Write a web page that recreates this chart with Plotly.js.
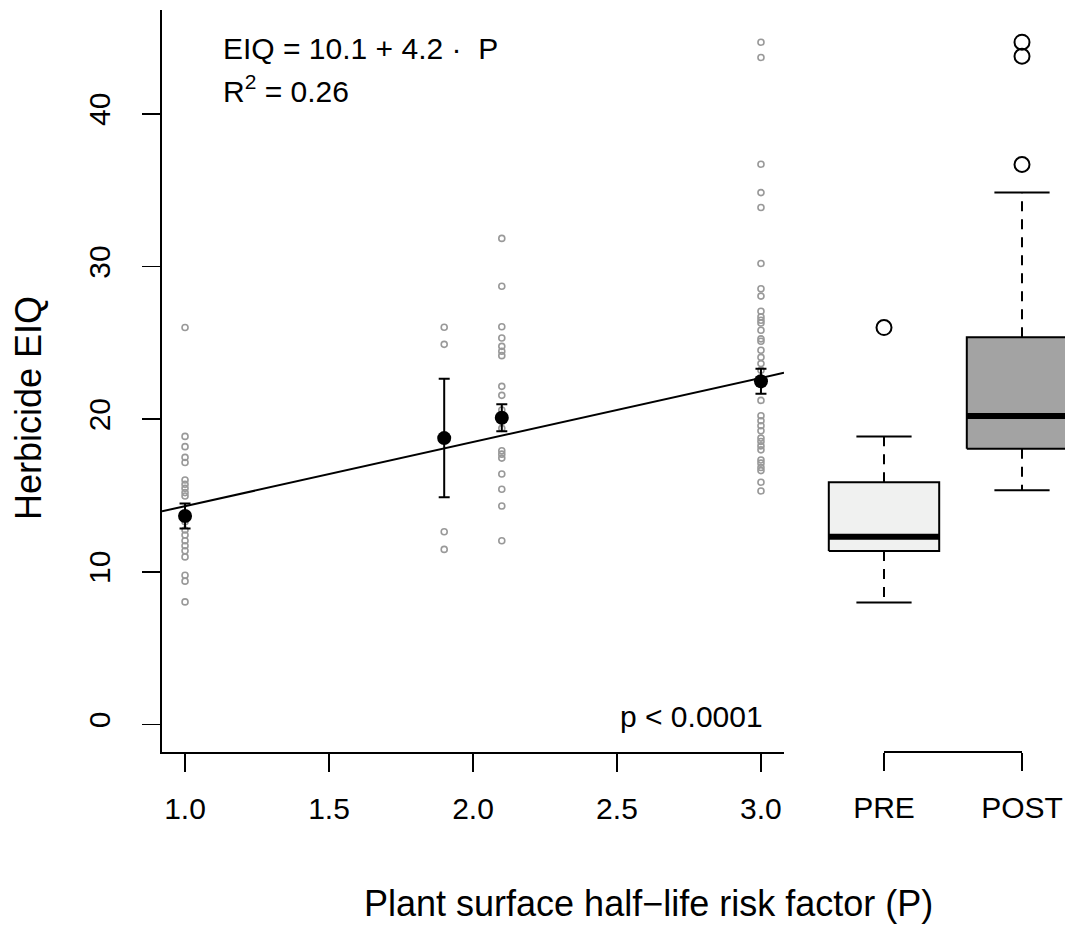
<!DOCTYPE html>
<html>
<head>
<meta charset="utf-8">
<script src="https://cdn.plot.ly/plotly-3.0.1.min.js"></script>
<style>
  html, body { margin: 0; padding: 0; background: #ffffff; }
  #chart { width: 1065px; height: 932px; }
</style>
</head>
<body>
<div id="chart"></div>
<script>
// ---------- data ----------
const pLevels = [1.0, 1.9, 2.1, 3.0];
const eiqP10 = [26.0, 18.87, 18.2, 17.5, 17.16, 16.02, 15.74, 15.47, 15.19, 14.97,
                13.28, 12.74, 12.41, 12.04, 11.71, 11.38, 10.98, 9.78, 9.39, 8.03];
const eiqP19 = [26.02, 24.9, 12.63, 11.47];
const eiqP21 = [31.84, 28.71, 26.05, 25.32, 24.77, 24.45, 24.16, 22.15, 21.56, 20.6,
                19.4, 17.93, 17.71, 17.45, 16.41, 15.41, 14.31, 12.04];
const eiqP30 = [44.69, 43.69, 36.7, 34.84, 33.86, 30.2, 28.54, 28.06, 27.07, 26.7,
                26.48, 26.3, 25.82, 25.26, 25.1, 24.51, 24.05, 23.64, 23.2, 21.23,
                20.22, 19.9, 19.57, 19.24, 18.76, 18.54, 18.25, 17.99, 17.33, 17.12,
                16.83, 16.63, 15.87, 15.3];
const groupMeans = [13.66, 18.76, 20.09, 22.48];
const groupSE = [0.82, 3.88, 0.88, 0.82];

const fitIntercept = 10.1;
const fitSlope = 4.2;

const xTickVals = [1.0, 1.5, 2.0, 2.5, 3.0];
const xTickText = ['1.0', '1.5', '2.0', '2.5', '3.0'];
const yTickVals = [0, 10, 20, 30, 40];

const boxNames = ['PRE', 'POST'];
const boxPos = [1, 2];
const boxLow = [8.0, 15.34];
const boxQ1 = [11.36, 18.06];
const boxMed = [12.3, 20.2];
const boxQ3 = [15.87, 25.36];
const boxHigh = [18.87, 34.84];
const boxOutliers = [[26.0], [36.68, 43.77, 44.69]];
const boxFill = ['#f0f1f0', '#a3a3a3'];

// ---------- layout constants ----------
const W = 1065, H = 932;
const L = 162, T = 10, B = 180;
const plotW = W - L, plotH = H - T - B;
const xMain = [0.92, 3.08];
const yMain = [-1.8, 46.8];
const mainRight = 784, boxLeft = 815;
const px2x = (px) => (px - L) / plotW;
const py2y = (py) => (H - B - py) / plotH;
const boxUnitPx = 138;
const x2Range = [0.5, 2 + (W - 1022) / boxUnitPx];
const FONT = 'Liberation Sans, Arial, Helvetica, sans-serif';
const boxHalf = 0.4, capHalf = 0.2;

const traces = [];

// raw points
const groups = [eiqP10, eiqP19, eiqP21, eiqP30];
const ptsX = [], ptsY = [];
groups.forEach((g, i) => g.forEach(v => { ptsX.push(pLevels[i]); ptsY.push(v); }));
traces.push({
  type: 'scatter', mode: 'markers', x: ptsX, y: ptsY,
  marker: { symbol: 'circle-open', size: 6, color: '#999999', line: { width: 1.6, color: '#999999' } },
  hoverinfo: 'skip'
});

// regression line
traces.push({
  type: 'scatter', mode: 'lines',
  x: xMain, y: xMain.map(x => fitIntercept + fitSlope * x),
  line: { color: '#000000', width: 2 }, hoverinfo: 'skip'
});

// means with SE
traces.push({
  type: 'scatter', mode: 'markers', x: pLevels, y: groupMeans,
  marker: { symbol: 'circle', size: 14, color: '#000000' },
  error_y: { type: 'data', array: groupSE, visible: true, color: '#000000', thickness: 2, width: 5.5 },
  hoverinfo: 'skip'
});

// boxplots
boxPos.forEach((p, i) => {
  traces.push({
    type: 'scatter', mode: 'lines', xaxis: 'x2', yaxis: 'y',
    x: [p - boxHalf, p + boxHalf, p + boxHalf, p - boxHalf, p - boxHalf],
    y: [boxQ1[i], boxQ1[i], boxQ3[i], boxQ3[i], boxQ1[i]],
    fill: 'toself', fillcolor: boxFill[i],
    line: { color: '#000000', width: 2 }, hoverinfo: 'skip'
  });
  traces.push({
    type: 'scatter', mode: 'lines', xaxis: 'x2', yaxis: 'y',
    x: [p - boxHalf, p + boxHalf], y: [boxMed[i], boxMed[i]],
    line: { color: '#000000', width: 6 }, hoverinfo: 'skip'
  });
  traces.push({
    type: 'scatter', mode: 'lines', xaxis: 'x2', yaxis: 'y',
    x: [p, p, null, p, p], y: [boxQ3[i], boxHigh[i], null, boxQ1[i], boxLow[i]],
    line: { color: '#000000', width: 2, dash: '10px,8px' }, hoverinfo: 'skip'
  });
  traces.push({
    type: 'scatter', mode: 'lines', xaxis: 'x2', yaxis: 'y',
    x: [p - capHalf, p + capHalf, null, p - capHalf, p + capHalf],
    y: [boxHigh[i], boxHigh[i], null, boxLow[i], boxLow[i]],
    line: { color: '#000000', width: 2 }, hoverinfo: 'skip'
  });
  traces.push({
    type: 'scatter', mode: 'markers', xaxis: 'x2', yaxis: 'y',
    x: boxOutliers[i].map(() => p), y: boxOutliers[i],
    marker: { symbol: 'circle-open', size: 15, color: '#000000', line: { width: 2, color: '#000000' } },
    hoverinfo: 'skip'
  });
});

const layout = {
  width: W, height: H,
  margin: { l: L, r: 0, t: T, b: B, pad: 0 },
  paper_bgcolor: '#ffffff', plot_bgcolor: 'rgba(0,0,0,0)',
  showlegend: false,
  font: { family: FONT, size: 30, color: '#000000' },
  xaxis: {
    domain: [0, px2x(mainRight)], range: xMain,
    tickmode: 'array', tickvals: xTickVals, ticktext: xTickText,
    ticks: 'outside', ticklen: 18, tickwidth: 1.5, tickcolor: '#000000',
    showline: true, linewidth: 2, linecolor: '#000000',
    showgrid: false, zeroline: false, ticklabelstandoff: 11,
    tickfont: { family: FONT, size: 30, color: '#000000' }
  },
  xaxis2: {
    domain: [px2x(boxLeft), 1], range: x2Range, anchor: 'y',
    tickmode: 'array', tickvals: boxPos, ticktext: boxNames,
    ticks: 'outside', ticklen: 18, tickwidth: 1.5, tickcolor: '#000000',
    showline: false, showgrid: false, zeroline: false, ticklabelstandoff: 11,
    tickfont: { family: FONT, size: 30, color: '#000000' }
  },
  yaxis: {
    domain: [0, 1], range: yMain,
    tickmode: 'array', tickvals: yTickVals, ticktext: yTickVals.map(String),
    tickangle: -90,
    ticks: 'outside', ticklen: 18, tickwidth: 1.5, tickcolor: '#000000',
    showline: true, linewidth: 2, linecolor: '#000000',
    showgrid: false, zeroline: false, ticklabelstandoff: 20,
    tickfont: { family: FONT, size: 30, color: '#000000' }
  },
  shapes: [{
    type: 'line', xref: 'x2', yref: 'paper',
    x0: boxPos[0], x1: boxPos[boxPos.length - 1], y0: 0, y1: 0,
    line: { color: '#000000', width: 2 }
  }],
  annotations: [
    { xref: 'paper', yref: 'paper', x: px2x(221), y: py2y(48), xanchor: 'left', yanchor: 'middle',
      text: 'EIQ = 10.1 + 4.2 \u00b7\u00a0 P', showarrow: false, font: { family: FONT, size: 30 } },
    { xref: 'paper', yref: 'paper', x: px2x(221), y: py2y(89), xanchor: 'left', yanchor: 'middle',
      text: 'R<sup>2</sup> = 0.26', showarrow: false, font: { family: FONT, size: 30 } },
    { xref: 'paper', yref: 'paper', x: px2x(765), y: py2y(716), xanchor: 'right', yanchor: 'middle',
      text: 'p < 0.0001', showarrow: false, font: { family: FONT, size: 30 } },
    { xref: 'paper', yref: 'paper', x: px2x(28), y: py2y(408), xanchor: 'center', yanchor: 'middle',
      text: 'Herbicide EIQ', textangle: -90, showarrow: false, font: { family: FONT, size: 36 } },
    { xref: 'paper', yref: 'paper', x: px2x(648), y: py2y(903), xanchor: 'center', yanchor: 'middle',
      text: 'Plant surface half\u2212life risk factor (P)', showarrow: false, font: { family: FONT, size: 36 } }
  ]
};

Plotly.newPlot('chart', traces, layout, { staticPlot: true, displayModeBar: false });
</script>
</body>
</html>
